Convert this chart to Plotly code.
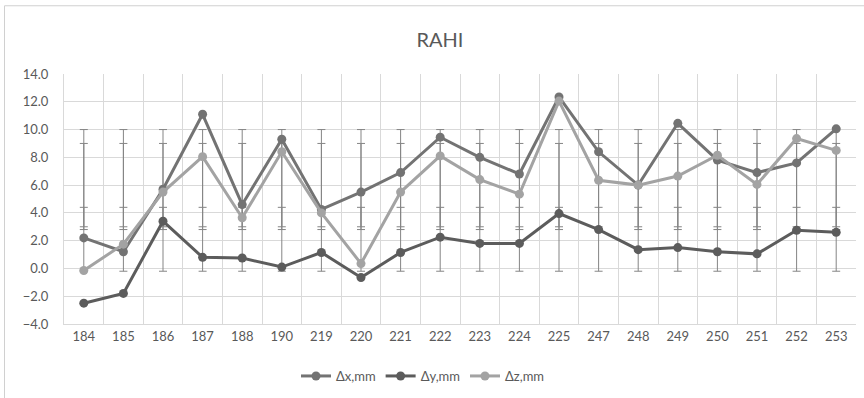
import plotly.graph_objects as go

categories = ["184", "185", "186", "187", "188", "190", "219", "220", "221", "222",
              "223", "224", "225", "247", "248", "249", "250", "251", "252", "253"]
dx = [2.2, 1.2, 5.7, 11.1, 4.6, 9.3, 4.25, 5.5, 6.9, 9.45,
      8.0, 6.8, 12.35, 8.4, 6.0, 10.45, 7.8, 6.9, 7.6, 10.05]
dy = [-2.5, -1.8, 3.4, 0.8, 0.75, 0.1, 1.15, -0.65, 1.15, 2.25,
      1.8, 1.8, 3.95, 2.8, 1.35, 1.5, 1.2, 1.05, 2.75, 2.6]
dz = [-0.15, 1.75, 5.5, 8.05, 3.65, 8.4, 4.0, 0.35, 5.5, 8.1,
      6.4, 5.35, 12.05, 6.35, 6.0, 6.65, 8.15, 6.05, 9.35, 8.5]
err_low = [-0.2, 3.0, 2.8]
err_high = [10.0, 9.0, 4.4]

series = [("Δx,mm", dx, "#737373"), ("Δy,mm", dy, "#5c5c5c"), ("Δz,mm", dz, "#a3a3a3")]

fig = go.Figure()

for lo, hi in zip(err_low, err_high):
    c = (lo + hi) / 2
    h = (hi - lo) / 2
    fig.add_trace(go.Scatter(
        x=categories, y=[c] * len(categories), mode="markers",
        marker=dict(size=1, color="rgba(0,0,0,0)"),
        error_y=dict(type="data", array=[h] * len(categories), symmetric=True,
                     color="#858585", thickness=1, width=4),
        showlegend=False, hoverinfo="skip"))

for name, vals, col in series:
    fig.add_trace(go.Scatter(
        x=categories, y=vals, mode="lines+markers", name=name,
        line=dict(color=col, width=3),
        marker=dict(color=col, size=9)))

W, H = 864, 398
L, T, R, B = 64, 74, 8, 73
pw, ph = W - L - R, H - T - B

fig.add_shape(type="rect", xref="paper", yref="paper",
              x0=(4.5 - L) / pw, x1=(880 - L) / pw,
              y0=-(B + 20) / ph, y1=(ph + T - 5.5) / ph,
              line=dict(color="#d0d0d0", width=1), fillcolor="rgba(0,0,0,0)", layer="below")

fig.update_layout(
    width=W, height=H,
    margin=dict(l=L, r=R, t=T, b=B),
    paper_bgcolor="white", plot_bgcolor="white",
    font=dict(family="Lato, Noto Sans, sans-serif", color="#595959", size=12),
    title=dict(text="RAHI", x=(440 - L) / pw, xref="paper", xanchor="center",
               y=1 - 40 / H, yanchor="middle",
               font=dict(size=20, color="#595959")),
    legend=dict(orientation="h", x=(423 - L) / pw, xanchor="center",
                y=-(376 - (H - B)) / ph, yanchor="middle",
                font=dict(size=13, color="#595959"), itemwidth=30),
    xaxis=dict(type="category", range=[-0.5, len(categories) - 0.5], tickson="boundaries",
               showgrid=True, gridcolor="#d9d9d9", gridwidth=1, showline=True,
               linecolor="#d9d9d9", ticks="", tickfont=dict(size=13), zeroline=False),
    yaxis=dict(range=[-4, 14], dtick=2, tickformat=".1f", showgrid=True,
               gridcolor="#d9d9d9", gridwidth=1, zeroline=False, showline=True,
               linecolor="#d9d9d9", tickfont=dict(size=13), ticks="",
               ticklabelstandoff=12),
)

fig.write_html("out.html", config={"displayModeBar": False},
               post_script="document.body.style.margin='0';")
